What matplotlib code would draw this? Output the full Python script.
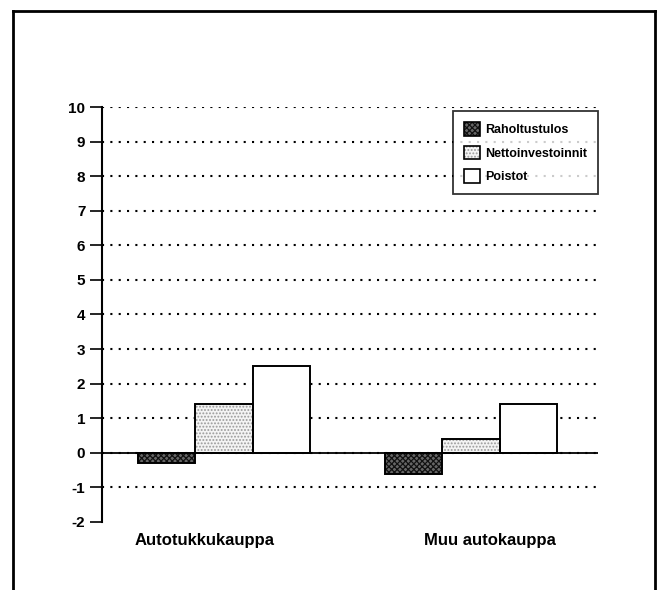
import matplotlib.pyplot as plt
import numpy as np
from matplotlib.lines import Line2D
from matplotlib.patches import Patch
from matplotlib.legend_handler import HandlerTuple

plt.rcParams['font.family'] = ['Liberation Sans', 'DejaVu Sans']
plt.rcParams['hatch.linewidth'] = 0.9

# Data
categories = ['Autotukkukauppa', 'Muu autokauppa']
series = ['Raholtustulos', 'Nettoinvestoinnit', 'Poistot']
raholtustulos = [-0.3, -0.6]
nettoinvestoinnit = [1.4, 0.4]
poistot = [2.5, 1.4]
yticks = list(range(-2, 11))

values = [raholtustulos, nettoinvestoinnit, poistot]
# fill colour, hatch, hatch colour
styles = [
    ('#666666', 'xxxxxx', '#111111'),
    ('#f4f4f4', '.....', '#9a9a9a'),
    ('white', None, 'white'),
]

fig = plt.figure(figsize=(6.58, 5.9), dpi=100)
ax = fig.add_axes([0.155, 0.1153, 0.754, 0.7033])

x = np.arange(len(categories))
w = 0.233
handles = []
for i, (vals, (fc, hatch, hc)) in enumerate(zip(values, styles)):
    pos = x + (i - 1) * w
    # fill + hatch first, then a black outline on top
    ax.bar(pos, vals, width=w, facecolor=fc, edgecolor=hc, linewidth=0,
           hatch=hatch, zorder=3)
    ax.bar(pos, vals, width=w, fill=False, edgecolor='black', linewidth=1.4,
           zorder=3.5)
    handles.append((Patch(facecolor=fc, edgecolor=hc, hatch=hatch, linewidth=0),
                    Patch(fill=False, edgecolor='black', linewidth=1.2)))

ax.set_ylim(-2, 10)
ax.set_xlim(-0.494, 1.514)
ax.set_yticks(yticks)
ax.set_yticklabels([str(t) for t in yticks], fontsize=11, fontweight='bold')
ax.grid(axis='y', linestyle=(0, (1, 3)), color='black', linewidth=1.5)
ax.yaxis.get_gridlines()[0].set_visible(False)
ax.set_axisbelow(True)
ax.axhline(0, color='black', linewidth=1.3, zorder=4)

# category labels slightly offset like the original
ax.set_xticks([-0.077, 1.077])
ax.set_xticklabels(categories, fontsize=12, fontweight='bold')
ax.tick_params(axis='x', length=0, pad=8)
ax.tick_params(axis='y', length=9, width=1.2, direction='out', pad=3)

for s in ['top', 'right', 'bottom']:
    ax.spines[s].set_visible(False)
ax.spines['left'].set_linewidth(1.5)

leg = ax.legend(handles, series, handler_map={tuple: HandlerTuple(ndivide=1, pad=0)},
                loc='upper right', bbox_to_anchor=(1.0, 0.99),
                prop={'weight': 'bold', 'size': 9}, frameon=True, fancybox=False,
                edgecolor='black', handlelength=1.3, handleheight=1.3,
                labelspacing=0.75, borderpad=0.9, handletextpad=0.35,
                borderaxespad=0)
leg.get_frame().set_linewidth(1.3)
leg.set_zorder(6)

# outer frame (no bottom edge)
W, H = 658, 590
fx = lambda p: p / W
fy = lambda p: 1 - p / H
fig.add_artist(Line2D([fx(13), fx(13)], [0, fy(11)], color='black', linewidth=2))
fig.add_artist(Line2D([fx(13), fx(655)], [fy(11), fy(11)], color='black', linewidth=2))
fig.add_artist(Line2D([fx(655), fx(655)], [fy(11), 0], color='black', linewidth=2))

fig.savefig('out.png', dpi=100)
